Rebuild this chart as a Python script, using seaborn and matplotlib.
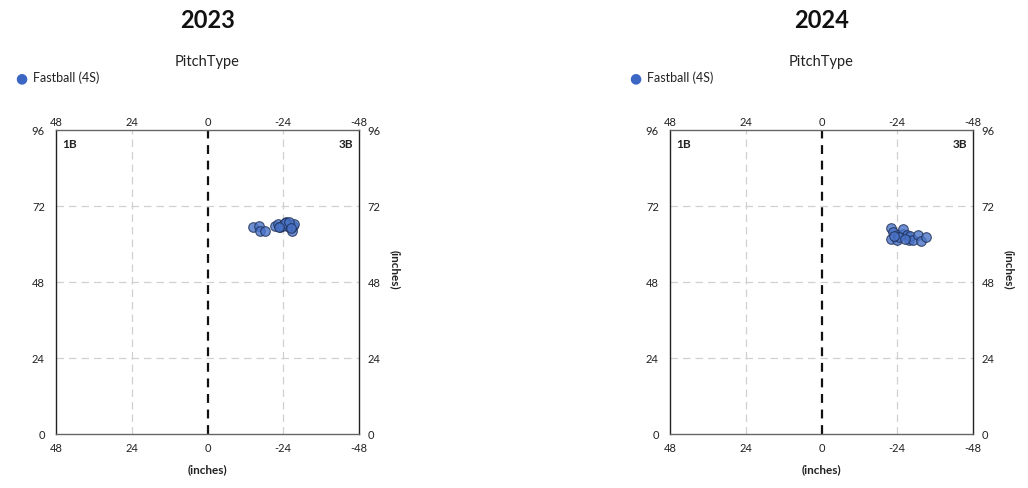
import pandas as pd
import numpy as np
import matplotlib.pyplot as plt
import seaborn as sns

sns.set_style('white')
plt.rcParams['font.family'] = ['Lato', 'DejaVu Sans']

years = ['2023', '2024']
pitch_type = 'Fastball (4S)'

# release point, horizontal (inches, catcher view) and height (inches)
x_2023 = [-14.4, -16.2, -16.6, -18.1, -21.4, -22.4, -23.0, -24.0, -24.9, -25.6,
          -26.1, -26.7, -27.2, -27.4, -25.1, -23.5, -24.5, -25.8, -26.5, -22.8]
y_2023 = [65.3, 65.6, 64.0, 64.2, 65.8, 66.3, 65.3, 66.0, 66.9, 66.3,
          65.3, 64.2, 65.8, 66.4, 65.6, 65.6, 66.5, 66.9, 65.0, 65.5]
x_2024 = [-21.9, -22.7, -22.0, -24.3, -23.8, -25.7, -25.9, -27.2, -27.8, -28.0,
          -29.0, -30.7, -31.4, -33.1, -24.5, -26.6, -22.9]
y_2024 = [65.0, 63.9, 61.6, 62.8, 61.4, 63.2, 64.7, 62.8, 61.4, 62.6,
          61.4, 62.8, 61.0, 62.2, 62.2, 61.5, 62.5]

xticks = [48, 24, 0, -24, -48]
yticks = [0, 24, 48, 72, 96]

W, H = 1028, 489
fig = plt.figure(figsize=(W / 100, H / 100), dpi=100)

panels = [(years[0], x_2023, y_2023, 56), (years[1], x_2024, y_2024, 670)]
for year, xs, ys, left in panels:
    ax = fig.add_axes([left / W, 1 - 435 / H, 303 / W, 304 / H])
    df = pd.DataFrame({'x': xs, 'y': ys, 'PitchType': pitch_type})
    sns.scatterplot(data=df, x='x', y='y', ax=ax, s=48, color='#4a74c9',
                    edgecolor='#1f2f55', linewidth=0.8, alpha=0.8,
                    legend=False, zorder=3)
    ax.set_xlim(48, -48)
    ax.set_ylim(0, 96)
    ax.set_xticks(xticks)
    ax.set_yticks(yticks)
    ax.set_xticklabels([str(t) for t in xticks])
    ax.set_yticklabels([str(t) for t in yticks])
    ax.tick_params(axis='both', length=0, labelsize=8, colors='#222222')
    ax.tick_params(axis='x', pad=6)
    ax.tick_params(axis='y', pad=8)
    ax.set_xlabel('')
    ax.set_ylabel('')

    # top and right tick labels
    top = ax.secondary_xaxis('top')
    top.set_xticks(xticks)
    top.set_xticklabels([str(t) for t in xticks])
    top.tick_params(length=0, labelsize=8, colors='#222222', pad=2)
    top.spines['top'].set_visible(False)
    right = ax.secondary_yaxis('right')
    right.set_yticks(yticks)
    right.set_yticklabels([str(t) for t in yticks])
    right.tick_params(length=0, labelsize=8, colors='#222222', pad=6)
    right.spines['right'].set_visible(False)

    for xv in [24, -24]:
        ax.axvline(xv, color='#d0d0d0', lw=0.9, ls=(0, (6, 4)), zorder=1)
    for yv in [24, 48, 72]:
        ax.axhline(yv, color='#d0d0d0', lw=0.9, ls=(0, (6, 4)), zorder=1)
    ax.axvline(0, color='#111111', lw=1.6, ls=(0, (4, 3)), zorder=2)
    for side in ['left', 'right']:
        ax.spines[side].set_color('#222222')
    for side in ['top', 'bottom']:
        ax.spines[side].set_color('#666666')
    for sp in ax.spines.values():
        sp.set_linewidth(1.0)
    ax.text(0.02, 0.975, '1B', transform=ax.transAxes, ha='left', va='top',
            fontsize=8.5, fontweight='bold', color='#222222')
    ax.text(0.98, 0.975, '3B', transform=ax.transAxes, ha='right', va='top',
            fontsize=8.5, fontweight='bold', color='#222222')

    cx = (left + 151.5) / W
    fig.text(cx, 1 - 20 / H, year, ha='center', va='center', fontsize=17,
             fontweight='bold', color='#111111')
    fig.text(cx, 1 - 62 / H, 'PitchType', ha='center', va='center',
             fontsize=10.5, color='#222222')
    fig.text(cx, 1 - 470 / H, '(inches)', ha='center', va='center',
             fontsize=8.5, fontweight='bold', color='#222222')
    fig.text((left + 339) / W, 1 - 270 / H, '(inches)', ha='center',
             va='center', rotation=270, fontsize=8.5, fontweight='bold',
             color='#222222')
    # legend
    fig.text((left - 35) / W, 1 - 78 / H, '\u25cf', ha='center', va='center',
             fontsize=10, color='#3b66c4', family='DejaVu Sans')
    fig.text((left - 23) / W, 1 - 78 / H, pitch_type, ha='left', va='center',
             fontsize=9, color='#222222')

fig.savefig('out.png', dpi=100)
